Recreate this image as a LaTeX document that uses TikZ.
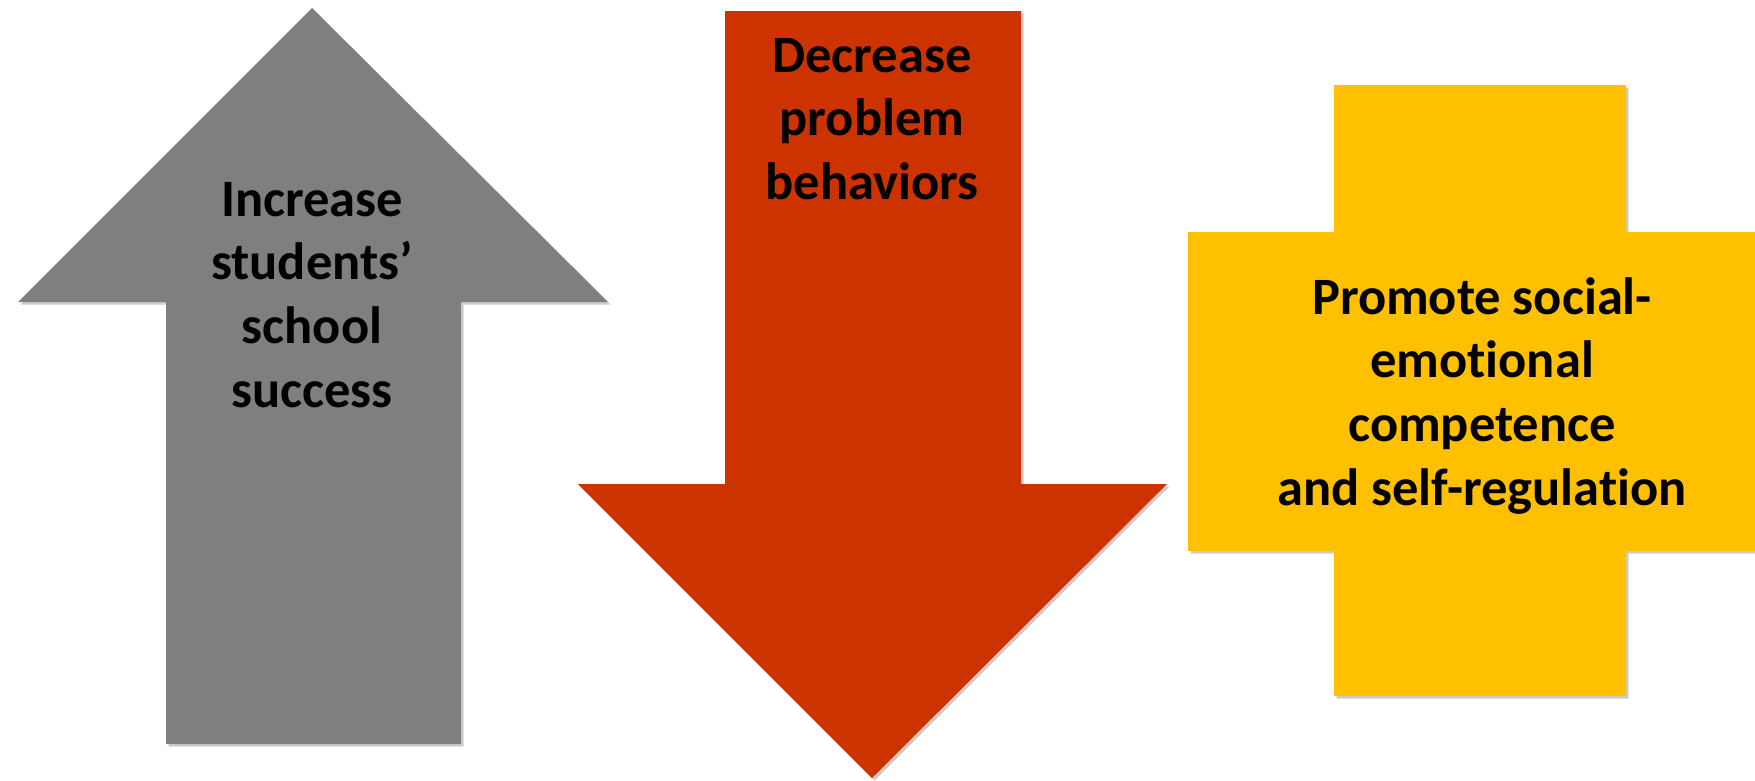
\documentclass[tikz,border=0pt]{standalone}
\usepackage{fontspec}
\setmainfont[Ligatures=NoCommon]{Carlito}
\usetikzlibrary{shadows}
\definecolor{arrowgrey}{RGB}{127,127,127}
\definecolor{arrowred}{RGB}{204,51,0}
\definecolor{crossyellow}{RGB}{255,192,0}
\tikzset{
  shapeshadow/.style={drop shadow={opacity=0.2,shadow xshift=2.5pt,shadow yshift=-2.5pt,fill=black}},
  label/.style={inner sep=0pt,anchor=base,font=\bfseries\fontsize{52.5}{63.7}\selectfont,text=black}
}
\begin{document}
\begin{tikzpicture}[x=1pt,y=-1pt]
\useasboundingbox (0,0) rectangle (1755,780);
% grey up arrow
\path[fill=arrowgrey,shapeshadow] (312,8) -- (608,302) -- (461,302) -- (461,744) -- (166,744) -- (166,302) -- (18,302) -- cycle;
% red down arrow
\path[fill=arrowred,shapeshadow] (725,11) -- (1021,11) -- (1021,484) -- (1167,484) -- (872,778) -- (578,484) -- (725,484) -- cycle;
% yellow cross
\path[fill=crossyellow,shapeshadow] (1334,85) -- (1626,85) -- (1626,232) -- (1760,232) -- (1760,551) -- (1626,551) -- (1626,696) -- (1334,696) -- (1334,551) -- (1188,551) -- (1188,232) -- (1334,232) -- cycle;
% texts
\node[label] (increase) at (312,216) {\begin{tabular}[t]{@{}c@{}}Increase\\students’\\school\\success\end{tabular}};
\node[label] (decrease) at (872,72) {\begin{tabular}[t]{@{}c@{}}Decrease\\problem\\behaviors\end{tabular}};
\node[label] (promote) at (1482,314) {\begin{tabular}[t]{@{}c@{}}Promote social-\\emotional\\competence\\and self-regulation\end{tabular}};
\end{tikzpicture}
\end{document}
